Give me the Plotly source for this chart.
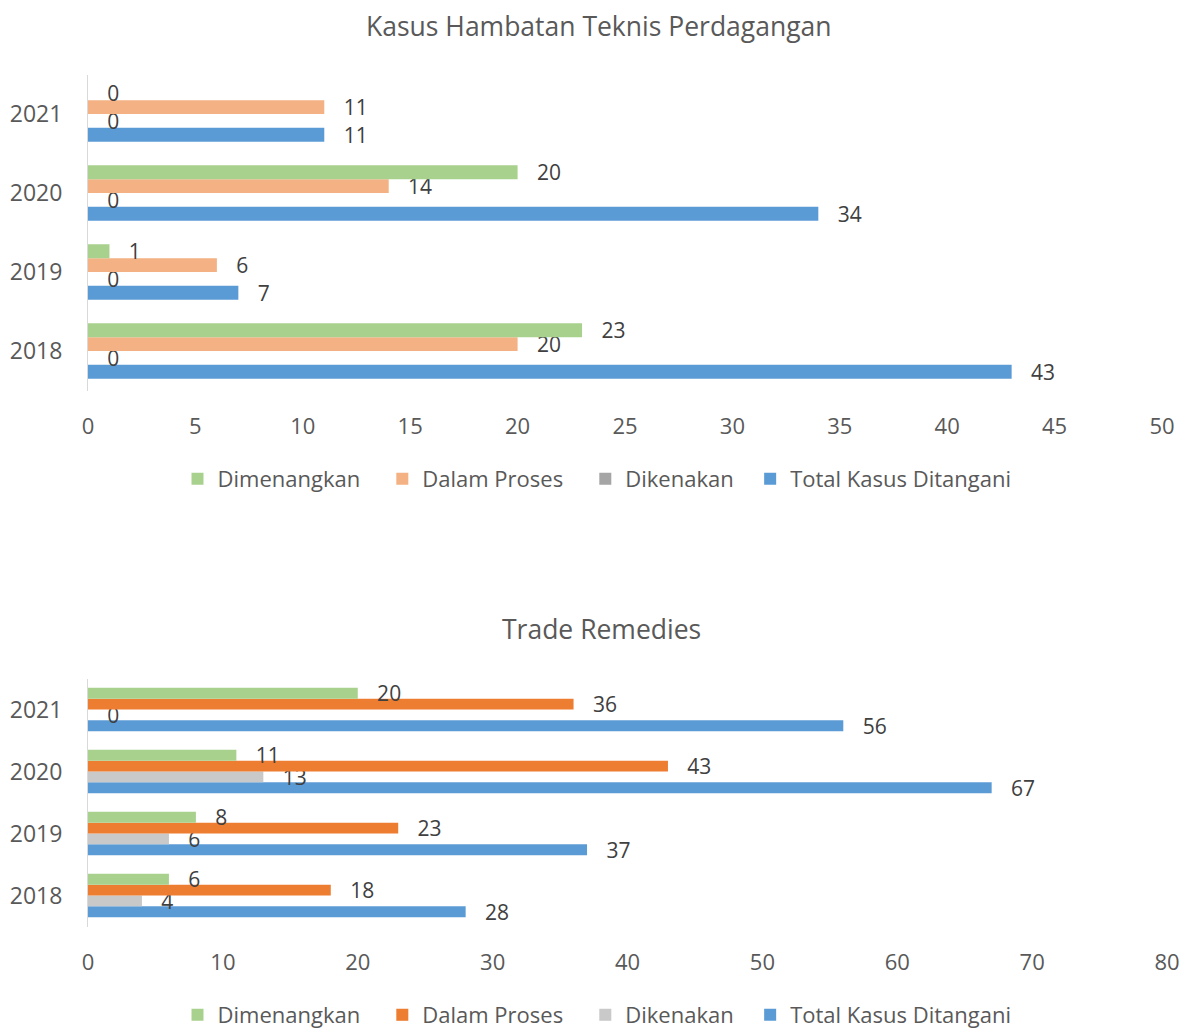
import plotly.graph_objects as go

years = ["2018", "2019", "2020", "2021"]
series_names = ["Dimenangkan", "Dalam Proses", "Dikenakan", "Total Kasus Ditangani"]
legend_pad = ["\u00a0\u00a0\u00a0", "\u00a0\u00a0\u00a0", "\u00a0\u00a0", ""]

# Kasus Hambatan Teknis Perdagangan
tbt_dimenangkan = [23, 1, 20, 0]
tbt_dalam_proses = [20, 6, 14, 11]
tbt_dikenakan = [0, 0, 0, 0]
tbt_total = [43, 7, 34, 11]

# Trade Remedies
tr_dimenangkan = [6, 8, 11, 20]
tr_dalam_proses = [18, 23, 43, 36]
tr_dikenakan = [4, 6, 13, 0]
tr_total = [28, 37, 67, 56]

top_colors = ["#A9D18E", "#F4B183", "#A5A5A5", "#5B9BD5"]
bot_colors = ["#A9D18E", "#ED7D31", "#C9C9C9", "#5B9BD5"]

FONT = "Open Sans"
TXT = "#595959"
LBL = "#404040"

W, H = 1184, 1028

fig = go.Figure()

top_vals = [tbt_dimenangkan, tbt_dalam_proses, tbt_dikenakan, tbt_total]
bot_vals = [tr_dimenangkan, tr_dalam_proses, tr_dikenakan, tr_total]

# add in reverse so Dimenangkan is on top within each group
for i in reversed(range(4)):
    fig.add_trace(go.Bar(
        y=years, x=top_vals[i], orientation="h", name=series_names[i] + legend_pad[i],
        marker=dict(color=top_colors[i], line=dict(width=0)),
        text=top_vals[i], texttemplate="\u00a0\u00a0\u00a0%{x}", textposition="outside",
        constraintext="none",
        textfont=dict(family=FONT, size=21, color=LBL), cliponaxis=False,
        xaxis="x", yaxis="y", legend="legend",
    ))
for i in reversed(range(4)):
    fig.add_trace(go.Bar(
        y=years, x=bot_vals[i], orientation="h", name=series_names[i] + legend_pad[i],
        marker=dict(color=bot_colors[i], line=dict(width=0)),
        text=bot_vals[i], texttemplate="\u00a0\u00a0\u00a0%{x}", textposition="outside",
        constraintext="none",
        textfont=dict(family=FONT, size=21, color=LBL), cliponaxis=False,
        xaxis="x2", yaxis="y2", legend="legend2",
    ))

def fy(px):
    return 1 - px / H

def fx(px):
    return px / W

xaxis_common = dict(showgrid=False, zeroline=False, automargin=False,
                    tickfont=dict(family=FONT, size=22, color=TXT))
yaxis_common = dict(showgrid=False, zeroline=False, automargin=False,
                    tickfont=dict(family=FONT, size=23, color=TXT))

fig.update_layout(
    width=W, height=H,
    margin=dict(l=0, r=0, t=0, b=0, pad=0, autoexpand=False),
    paper_bgcolor="white", plot_bgcolor="white",
    barmode="group", bargap=0.3, bargroupgap=0,
    font=dict(family=FONT, color=TXT),
    xaxis=dict(domain=[fx(88), fx(1162)], range=[0, 50], dtick=5, anchor="y",
               showline=False, ticks="", ticklabelstandoff=20, **xaxis_common),
    yaxis=dict(domain=[fy(390.5), fy(74.5)], type="category", categoryorder="array",
               categoryarray=years, anchor="x", showline=True, linecolor="#D9D9D9",
               linewidth=1, ticks="", ticklabelstandoff=20, **yaxis_common),
    xaxis2=dict(domain=[fx(88), fx(1167)], range=[0, 80], dtick=10, anchor="y2",
                showline=False, ticks="", ticklabelstandoff=20, **xaxis_common),
    yaxis2=dict(domain=[fy(926.5), fy(678.5)], type="category", categoryorder="array",
                categoryarray=years, anchor="x2", showline=True, linecolor="#D9D9D9",
                linewidth=1, ticks="", ticklabelstandoff=20, **yaxis_common),
    legend=dict(orientation="h", x=fx(597), xanchor="center", y=fy(479), yanchor="middle",
                traceorder="reversed", font=dict(family=FONT, size=22, color=TXT),
                itemwidth=30, bgcolor="rgba(0,0,0,0)"),
    legend2=dict(orientation="h", x=fx(597), xanchor="center", y=fy(1015), yanchor="middle",
                 traceorder="reversed", font=dict(family=FONT, size=22, color=TXT),
                 itemwidth=30, bgcolor="rgba(0,0,0,0)"),
    annotations=[
        dict(text="Kasus Hambatan Teknis Perdagangan", x=fx(599), y=fy(26), xref="paper",
             yref="paper", showarrow=False, xanchor="center", yanchor="middle",
             font=dict(family=FONT, size=26.5, color=TXT)),
        dict(text="Trade Remedies", x=fx(601), y=fy(629), xref="paper", yref="paper",
             showarrow=False, xanchor="center", yanchor="middle",
             font=dict(family=FONT, size=26.5, color=TXT)),
    ],
)

fig.write_html(
    "out.html",
    config={"displayModeBar": False},
    post_script="document.documentElement.style.margin='0';document.body.style.margin='0';document.body.style.padding='0';document.body.style.overflow='hidden';",
)
